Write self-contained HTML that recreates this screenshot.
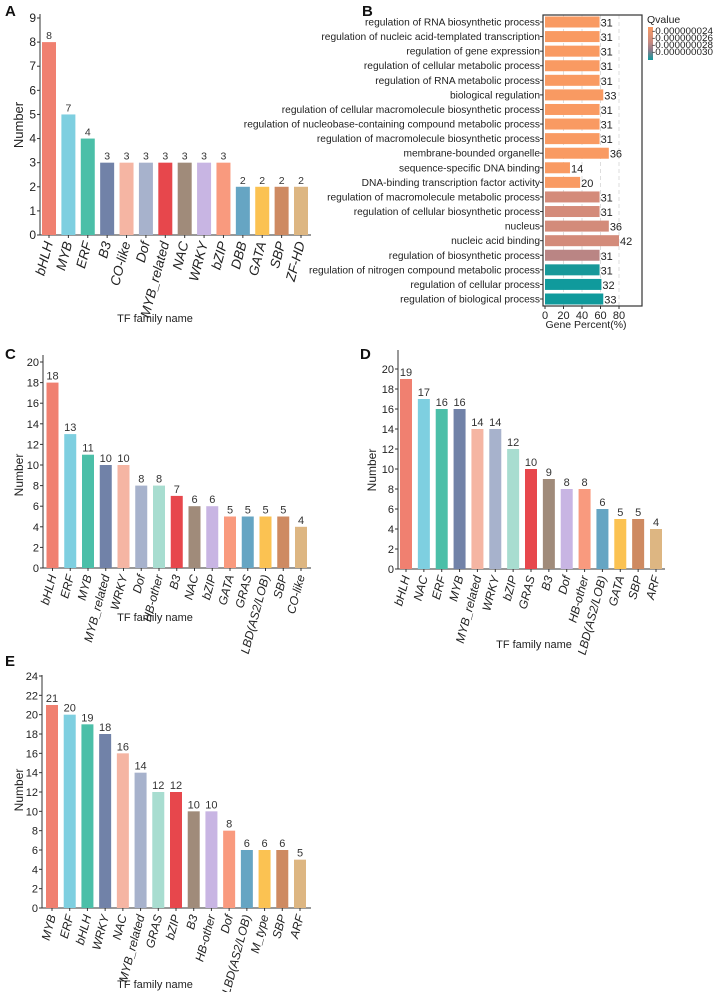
<!DOCTYPE html>
<html><head><meta charset="utf-8"><style>
html,body{margin:0;padding:0;background:#fff;}
svg{display:block;font-family:"Liberation Sans",Arial,sans-serif;}
</style></head><body>
<svg id="fig" width="714" height="992" viewBox="0 0 714 992" xmlns="http://www.w3.org/2000/svg">
<defs>
<linearGradient id="qgrad" x1="0" y1="0" x2="0" y2="1">
<stop offset="0" stop-color="#F99A62"/><stop offset="0.45" stop-color="#C98A80"/><stop offset="0.7" stop-color="#8E7C8C"/><stop offset="1" stop-color="#109A9C"/>
</linearGradient>
</defs>
</svg>
<script>
// ---- Panel A data ----
const aCats=["bHLH","MYB","ERF","B3","CO-like","Dof","MYB_related","NAC","WRKY","bZIP","DBB","GATA","SBP","ZF-HD"];
const aVals=[8,5,4,3,3,3,3,3,3,3,2,2,2,2];
const aLabels=["8","7","4","3","3","3","3","3","3","3","2","2","2","2"];
const aTicks=[0,1,2,3,4,5,6,7,8,9];
// ---- Panel C data ----
const cCats=["bHLH","ERF","MYB","MYB_related","WRKY","Dof","HB-other","B3","NAC","bZIP","GATA","GRAS","LBD(AS2/LOB)","SBP","CO-like"];
const cVals=[18,13,11,10,10,8,8,7,6,6,5,5,5,5,4];
const cTicks=[0,2,4,6,8,10,12,14,16,18,20];
// ---- Panel D data ----
const dCats=["bHLH","NAC","ERF","MYB","MYB_related","WRKY","bZIP","GRAS","B3","Dof","HB-other","LBD(AS2/LOB)","GATA","SBP","ARF"];
const dVals=[19,17,16,16,14,14,12,10,9,8,8,6,5,5,4];
const dTicks=[0,2,4,6,8,10,12,14,16,18,20];
// ---- Panel E data ----
const eCats=["MYB","ERF","bHLH","WRKY","NAC","MYB_related","GRAS","bZIP","B3","HB-other","Dof","LBD(AS2/LOB)","M_type","SBP","ARF"];
const eVals=[21,20,19,18,16,14,12,12,10,10,8,6,6,6,5];
const eTicks=[0,2,4,6,8,10,12,14,16,18,20,22,24];
// ---- Panel B data ----
const bTerms=["regulation of RNA biosynthetic process","regulation of nucleic acid-templated transcription","regulation of gene expression","regulation of cellular metabolic process","regulation of RNA metabolic process","biological regulation","regulation of cellular macromolecule biosynthetic process","regulation of nucleobase-containing compound metabolic process","regulation of macromolecule biosynthetic process","membrane-bounded organelle","sequence-specific DNA binding","DNA-binding transcription factor activity","regulation of macromolecule metabolic process","regulation of cellular biosynthetic process","nucleus","nucleic acid binding","regulation of biosynthetic process","regulation of nitrogen compound metabolic process","regulation of cellular process","regulation of biological process"];
const bPercent=[59,59,59,59,59,63,59,59,59,69,27,38,59,59,69,80,59,59,61,63];
const bCounts=[31,31,31,31,31,33,31,31,31,36,14,20,31,31,36,42,31,31,32,33];
const bQ=[0.000000024,0.000000024,0.000000024,0.000000024,0.000000024,0.000000024,0.000000024,0.000000024,0.000000024,0.000000024,0.000000024,0.000000024,0.0000000255,0.0000000255,0.0000000256,0.0000000256,0.0000000272,0.0000000296,0.0000000300,0.0000000300];
const bTicks=[0,20,40,60,80];
const qLegend=["0.000000024","0.000000026","0.000000028","0.000000030"];

const NS="http://www.w3.org/2000/svg";
const svg=document.getElementById('fig');
function mk(tag,attrs,parent){const e=document.createElementNS(NS,tag);for(const k in attrs)e.setAttribute(k,attrs[k]);(parent||svg).appendChild(e);return e;}
const pal15=["#F08070","#7ECFE0","#4BBFA8","#7182A8","#F5B5A3","#A7B2CC","#A8DDD0","#E7474C","#A08B7A","#C8B5E3","#F99A7E","#66A5C3","#FBC252","#CE8A62","#DDB682"];
const pal14=["#F08070","#7ECFE0","#4BBFA8","#7182A8","#F5B5A3","#A7B2CC","#E7474C","#A08B7A","#C8B5E3","#F99A7E","#66A5C3","#FBC252","#CE8A62","#DDB682"];

function panelLetter(t,x,y){const e=mk('text',{x:x,y:y,'font-size':15,'font-weight':'bold',fill:'#111'});e.textContent=t;

}

function barPanel(id,cats,vals,labels,ticks,pal,g){
  const grp=mk('g',{});
  
  
  const yMax=ticks[ticks.length-1];
  const y=v=>g.y0-(v/yMax)*(g.y0-g.yT);
  const step=(g.lastX-g.firstX)/(cats.length-1);
  const x=i=>g.firstX+i*step;
  const ya=mk('line',{x1:g.ax,y1:g.axTop,x2:g.ax,y2:g.y0,stroke:'#333','stroke-width':1},grp);
  
  
  const xa=mk('line',{x1:g.ax,y1:g.y0,x2:g.axEnd,y2:g.y0,stroke:'#333','stroke-width':1},grp);
  
  
  ticks.forEach(t=>{
    mk('line',{x1:g.ax-3,y1:y(t),x2:g.ax,y2:y(t),stroke:'#333'},grp);
    const tl=mk('text',{x:g.ax-4,y:y(t)+4,'font-size':g.tf,'text-anchor':'end',fill:'#222'},grp);
    tl.textContent=t;
    
    
  });
  cats.forEach((c,i)=>{
    const cx=x(i)+g.bw/2;
    const r=mk('rect',{x:x(i),y:y(vals[i]),width:g.bw,height:g.y0-y(vals[i]),fill:pal[i%pal.length]},grp);
    
    
    const vl=mk('text',{x:cx,y:y(vals[i])-3,'font-size':g.vf,'text-anchor':'middle',fill:'#333'},grp);
    vl.textContent=labels?labels[i]:vals[i];
    
    
    mk('line',{x1:cx,y1:g.y0,x2:cx,y2:g.y0+3,stroke:'#333'},grp);
    const xl=mk('text',{x:cx+4,y:g.y0+8,'font-size':g.xf,'text-anchor':'end','font-style':'italic',fill:'#222',transform:`rotate(-75 ${cx+4} ${g.y0+8})`},grp);
    xl.textContent=c;
    
    
  });
  const yt=mk('text',{x:g.ytx,y:g.yty,'font-size':g.tf+1,'text-anchor':'middle',fill:'#222',transform:`rotate(-90 ${g.ytx} ${g.yty})`},grp);
  yt.textContent='Number';
  
  
  const xt=mk('text',{x:g.xtx,y:g.xty,'font-size':11,'text-anchor':'middle',fill:'#222'},grp);
  xt.textContent='TF family name';
  
  
}

panelLetter('A',5,16);panelLetter('B',362,16);panelLetter('C',5,359);panelLetter('D',360,359);panelLetter('E',5,666);

barPanel('a',aCats,aVals,aLabels,aTicks,pal14,{ax:40,axTop:14,axEnd:311,y0:235,yT:18,firstX:42,lastX:294,bw:14,tf:12,vf:10.5,xf:13.5,ytx:23,yty:125,xtx:155,xty:322});
barPanel('c',cCats,cVals,null,cTicks,pal15,{ax:43,axTop:355,axEnd:311,y0:568,yT:362,firstX:46.5,lastX:295,bw:12,tf:11,vf:11,xf:12,ytx:23,yty:475,xtx:155,xty:621});
barPanel('d',dCats,dVals,null,dTicks,pal15,{ax:398,axTop:350,axEnd:665,y0:569,yT:369,firstX:400,lastX:650,bw:12,tf:11,vf:11,xf:12,ytx:376,yty:470,xtx:534,xty:648});
barPanel('e',eCats,eVals,null,eTicks,pal15,{ax:42,axTop:675,axEnd:311,y0:908,yT:676,firstX:46,lastX:294,bw:12,tf:11,vf:11,xf:12,ytx:23,yty:790,xtx:155,xty:988});

// ---- Panel B ----
(function(){
  const grp=mk('g',{});
  
  
  const L=543,R=642,T=15,B=306;
  const x=v=>545+v*(619-545)/80;
  const rowTop=22,rowStep=(299-22)/(bTerms.length-1);
  const yc=i=>rowTop+i*rowStep;
  const qMin=0.000000024,qMax=0.000000030;
  function qColor(q){const t=Math.max(0,Math.min(1,(q-qMin)/(qMax-qMin)));
    const stops=[[0,[249,154,98]],[0.2,[217,140,120]],[0.6,[180,132,134]],[0.8,[40,148,146]],[1,[16,154,156]]];
    for(let k=1;k<stops.length;k++){if(t<=stops[k][0]){const a=stops[k-1],b=stops[k];const f=(t-a[0])/(b[0]-a[0]);
      const c=a[1].map((v,j)=>Math.round(v+(b[1][j]-v)*f));return `rgb(${c.join(',')})`;}}
    return 'rgb(16,154,156)';}
  bTicks.forEach(t=>{ if(t>0){const gl=mk('line',{x1:x(t),y1:T,x2:x(t),y2:B,stroke:'#ddd','stroke-dasharray':'4,3'},grp);
    
    }});
  bTerms.forEach((term,i)=>{
    const r=mk('rect',{x:x(0),y:yc(i)-5.5,width:x(bPercent[i])-x(0),height:11,fill:qColor(bQ[i])},grp);
    
    
    const c=mk('text',{x:x(bPercent[i])+1,y:yc(i)+4.5,'font-size':11,fill:'#222'},grp);
    c.textContent=bCounts[i];
    
    
    mk('line',{x1:L-3,y1:yc(i),x2:L,y2:yc(i),stroke:'#333'},grp);
    const t=mk('text',{x:L-3,y:yc(i)+3.5,'font-size':10.2,'text-anchor':'end',fill:'#222'},grp);
    t.textContent=term;
    
    
  });
  const box=mk('rect',{x:L,y:T,width:R-L,height:B-T,fill:'none',stroke:'#333','stroke-width':1.2},grp);
  
  
  bTicks.forEach(t=>{
    mk('line',{x1:x(t),y1:B,x2:x(t),y2:B+3,stroke:'#333'},grp);
    const tl=mk('text',{x:x(t),y:B+13,'font-size':11,'text-anchor':'middle',fill:'#222'},grp);
    tl.textContent=t;
    
    
  });
  const xt=mk('text',{x:586,y:328,'font-size':10.5,'text-anchor':'middle',fill:'#222'},grp);
  xt.textContent='Gene Percent(%)';
  
  
  const lg=mk('g',{},grp);
  
  
  const lt=mk('text',{x:647,y:23,'font-size':10.5,fill:'#222'},lg);
  lt.textContent='Qvalue';
  mk('rect',{x:648,y:27,width:5,height:33,fill:'url(#qgrad)'},lg);
  qLegend.forEach((q,i)=>{
    const e=mk('text',{x:652,y:34+i*7,'font-size':9,fill:'#222',textLength:61,lengthAdjust:'spacingAndGlyphs'},lg);
    e.textContent='-'+q;
    
    
  });
})();
</script>
</body></html>
